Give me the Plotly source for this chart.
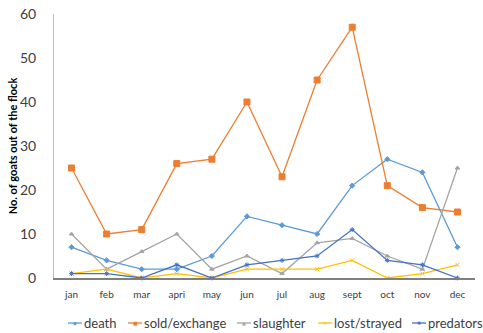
import plotly.graph_objects as go

months = ["jan", "feb", "mar", "apri", "may", "jun", "jul", "aug", "sept", "oct", "nov", "dec"]
death = [7, 4, 2, 2, 5, 14, 12, 10, 21, 27, 24, 7]
sold_exchange = [25, 10, 11, 26, 27, 40, 23, 45, 57, 21, 16, 15]
slaughter = [10, 2, 6, 10, 2, 5, 1, 8, 9, 5, 2, 25]
lost_strayed = [1, 2, 0, 1, 0, 2, 2, 2, 4, 0, 1, 3]
predators = [1, 1, 0, 3, 0, 3, 4, 5, 11, 4, 3, 0]
yticks = [0, 10, 20, 30, 40, 50, 60]

series = [
    ("death", death, "#5B9BD5", "diamond", 4, "◆"),
    ("sold/exchange", sold_exchange, "#ED7D31", "square", 6, "■"),
    ("slaughter", slaughter, "#A5A5A5", "triangle-up", 4, "▲"),
    ("lost/strayed", lost_strayed, "#FFC000", "x-thin", 4, "✕"),
    ("predators", predators, "#4472C4", "asterisk", 4, "✱"),
]

# plot area in pixels (for placing the hand-built legend below the axis)
W, H = 483, 333
L, R, T, B = 54, 8, 14, 55
pw, ph = W - L - R, H - T - B

def px_x(px):
    return (px - L) / pw

def px_y(py):
    return (H - B - py) / ph

fig = go.Figure()
for name, vals, color, sym, size, _ in series:
    fig.add_trace(go.Scatter(
        x=months, y=vals, name=name, mode="lines+markers",
        line=dict(color=color, width=1.3),
        marker=dict(color=color, symbol=sym, size=size,
                    line=dict(color=color, width=1)),
        cliponaxis=False, showlegend=False,
    ))

# legend row (one line like the original)
legend_line_starts = [68, 128, 237, 318, 412]
legend_y = 323
shapes = []
annotations = []
for (name, _, color, _, _, glyph), x0 in zip(series, legend_line_starts):
    shapes.append(dict(type="line", xref="paper", yref="paper",
                       x0=px_x(x0), x1=px_x(x0 + 14), y0=px_y(legend_y), y1=px_y(legend_y),
                       line=dict(color=color, width=1.3)))
    annotations.append(dict(xref="paper", yref="paper", x=px_x(x0 + 7), y=px_y(legend_y),
                            text=glyph, showarrow=False, xanchor="center", yanchor="middle",
                            font=dict(family="DejaVu Sans", size=5, color=color)))
    annotations.append(dict(xref="paper", yref="paper", x=px_x(x0 + 14), y=px_y(legend_y),
                            text=name, showarrow=False, xanchor="left", yanchor="middle",
                            font=dict(family="Lato", size=13, color="#404040")))

fig.update_layout(
    width=W, height=H,
    margin=dict(l=L, r=R, t=T, b=B),
    paper_bgcolor="white", plot_bgcolor="white",
    font=dict(family="Lato, sans-serif", color="#404040"),
    showlegend=False,
    shapes=shapes,
    annotations=annotations,
    xaxis=dict(type="category", range=[-0.5, 11.5], showgrid=False,
               showline=True, linecolor="#7F7F7F", linewidth=1.5,
               ticks="", tickfont=dict(size=10, color="#404040"),
               ticklabelstandoff=6, automargin=False),
    yaxis=dict(range=[0, 60], tickvals=yticks, showgrid=False, zeroline=False,
               showline=True, linecolor="#BFBFBF", linewidth=1,
               ticks="", tickfont=dict(size=14, color="#404040"),
               ticklabelstandoff=14, automargin=False,
               title=dict(text="<b>No. of goats out of the flock</b>",
                          font=dict(size=11, color="#000000"), standoff=0)),
)

fig.write_html("out.html")
